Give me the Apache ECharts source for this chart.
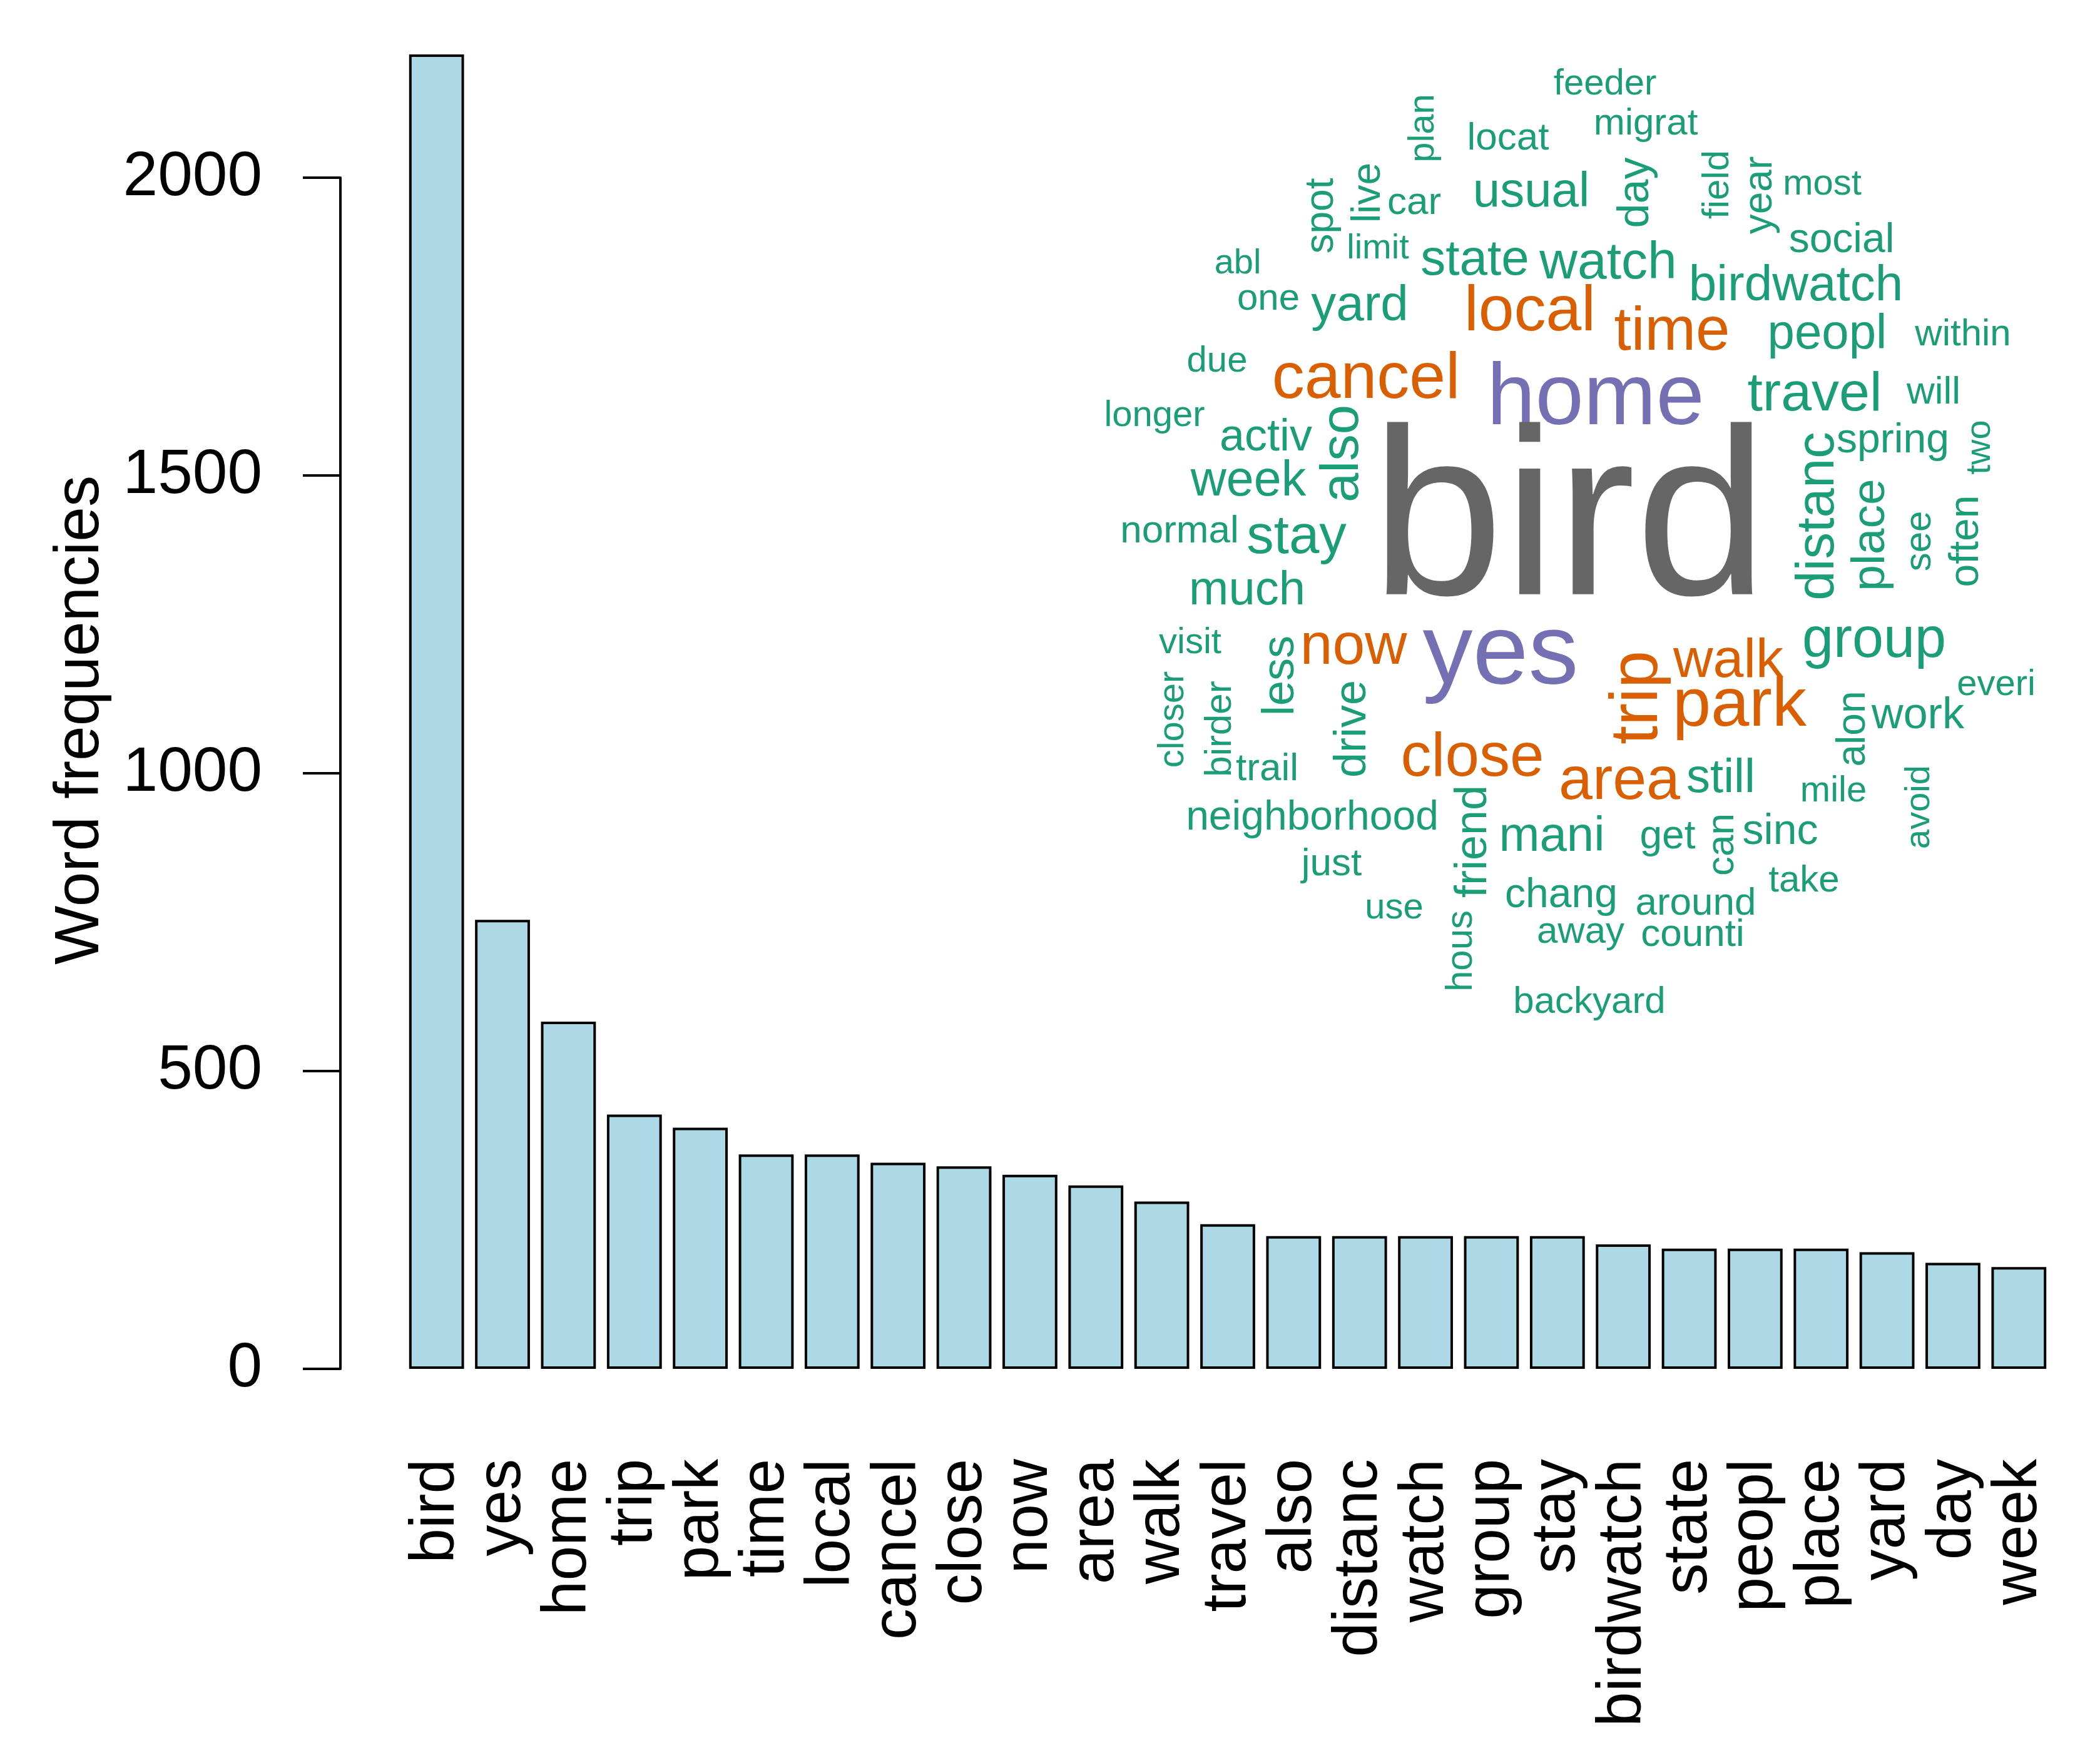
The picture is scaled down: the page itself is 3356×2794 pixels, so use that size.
<!DOCTYPE html>
<html><head><meta charset="utf-8">
<script src="https://cdn.jsdelivr.net/npm/echarts@6/dist/echarts.min.js"></script>
<style>html,body{margin:0;padding:0;background:#fff}#c{width:3356px;height:2794px}</style>
</head><body><div id="c"></div>
<script>
const categories = ["bird","yes","home","trip","park","time","local","cancel","close","now","area","walk","travel","also","distanc","watch","group","stay","birdwatch","state","peopl","place","yard","day","week"];
const frequencies = [2207,754,583,427,405,360,360,346,340,326,308,281,243,223,223,223,223,223,209,202,202,202,196,178,171];
const yTicks = [0,500,1000,1500,2000];

const cloudWords = ["feeder","migrat","locat","plan","spot","live","car","usual","day","field","year","most","abl","limit","state","watch","social","one","yard","local","time","birdwatch","peopl","within","due","cancel","home","travel","will","longer","activ","also","spring","two","week","bird","distanc","place","see","often","normal","stay","much","visit","less","now","yes","walk","trip","park","group","everi","closer","birder","drive","alon","work","trail","close","area","still","mile","avoid","neighborhood","friend","mani","get","can","sinc","just","take","use","chang","around","hous","away","counti","backyard"];
const cloudGroup = {bird:"top",home:"second",yes:"second",local:"third",time:"third",cancel:"third",now:"third",trip:"third",park:"third",walk:"third",close:"third",area:"third"};
// layout (not data): centre x, centre y, font size, rotation
const L = {
feeder:[815,55,58],migrat:[880,118,60],locat:[660,142,62],plan:[525,125,58,90],spot:[362,265,64,90],live:[437,228,64,90],car:[510,245,62],usual:[697,228,78],day:[865,228,70,90],field:[995,215,60,90],year:[1063,232,64,90],most:[1162,215,58],
abl:[228,342,56],limit:[452,318,56],state:[607,337,80],watch:[820,342,84],social:[1193,305,66],one:[277,398,60],yard:[423,410,80],local:[695,420,102],time:[922,452,98],birdwatch:[1120,378,80],peopl:[1170,455,78],within:[1387,455,60],
due:[195,498,58],cancel:[433,527,104],home:[800,560,139],travel:[1150,552,88],will:[1340,548,62],longer:[95,585,58],activ:[273,620,72],also:[397,645,85,90],spring:[1275,625,66],two:[1415,635,56,90],week:[245,690,79],
bird:[758,765,380],distanc:[1157,745,85,90],place:[1240,775,75,90],see:[1318,785,60,90],often:[1393,785,66,90],normal:[135,770,62],stay:[322,780,87],much:[243,865,76],visit:[152,948,58],less:[297,1000,72,90],now:[413,955,93],yes:[648,968,160],walk:[1012,978,88],trip:[868,1035,108,90],park:[1030,1050,110],group:[1245,945,90],everi:[1440,1015,58],
closer:[125,1070,58,90],birder:[200,1085,60,90],drive:[412,1085,72,90],alon:[1212,1085,64,90],work:[1315,1065,70],trail:[275,1150,62],close:[603,1133,98],area:[838,1170,97],still:[1000,1165,76],mile:[1180,1185,58],avoid:[1318,1210,56,90],
neighborhood:[347,1228,66],friend:[605,1265,72,90],mani:[730,1258,78],get:[915,1258,64],can:[1003,1270,62,90],sinc:[1095,1250,68],just:[378,1302,62],take:[1133,1328,60],use:[478,1372,58],chang:[745,1352,66],around:[960,1365,62],hous:[585,1440,60,90],away:[776,1410,60],counti:[955,1415,62],backyard:[790,1522,60]
};
const groupColor = {top:"#666666",second:"#7570B3",third:"#D95F02",rest:"#1B9E77"};

const cloudData = cloudWords.map(w => {
  const p = L[w];
  return {value:[p[0],p[1]], name:w,
    label:{show:true,formatter:w,fontSize:p[2],rotate:p[3]||0,color:groupColor[cloudGroup[w]||"rest"],
      fontFamily:"Liberation Sans",position:"inside",align:"center",verticalAlign:"middle",opacity:1}};
});

const chart = echarts.init(document.getElementById('c'), null, {renderer:'canvas'});
const font = "Liberation Sans";
chart.setOption({
  backgroundColor:"#fff",
  animation:false,
  grid:[
    {left:645,right:77,top:46,bottom:606},
    {left:544,width:10,top:284,bottom:606},
    {left:1750,top:80,width:1550,height:1550}
  ],
  xAxis:[
    {gridIndex:0,type:'category',data:categories,axisLine:{show:false},axisTick:{show:false},
      axisLabel:{rotate:90,fontSize:100,fontFamily:font,color:"#000",margin:144,interval:0}},
    {gridIndex:1,type:'value',show:false},
    {gridIndex:2,type:'value',min:0,max:1550,show:false}
  ],
  yAxis:[
    {gridIndex:0,type:'value',min:0,max:2250,show:false},
    {gridIndex:1,type:'value',min:0,max:2000,interval:500,position:'left',
      axisLine:{show:true,lineStyle:{color:"#000",width:4}},
      axisTick:{show:true,length:60,lineStyle:{color:"#000",width:4}},
      splitLine:{show:false},
      axisLabel:{fontSize:100,fontFamily:font,color:"#000",margin:125,
        formatter:v=>yTicks.includes(v)?String(v):""}},
    {gridIndex:2,type:'value',min:0,max:1550,inverse:true,show:false}
  ],
  graphic:[{type:'text',x:129,y:1151,rotation:Math.PI/2,
    style:{text:"Word frequencies",fontSize:100,fontFamily:font,fill:"#000",align:'center',verticalAlign:'middle'}}],
  series:[
    {type:'bar',xAxisIndex:0,yAxisIndex:0,data:frequencies,barCategoryGap:'16.7%',
      itemStyle:{color:"#ADD8E6",borderColor:"#000",borderWidth:4}},
    {type:'scatter',xAxisIndex:2,yAxisIndex:2,symbolSize:0,data:cloudData,silent:true,
      itemStyle:{opacity:1}}
  ]
});
</script></body></html>
